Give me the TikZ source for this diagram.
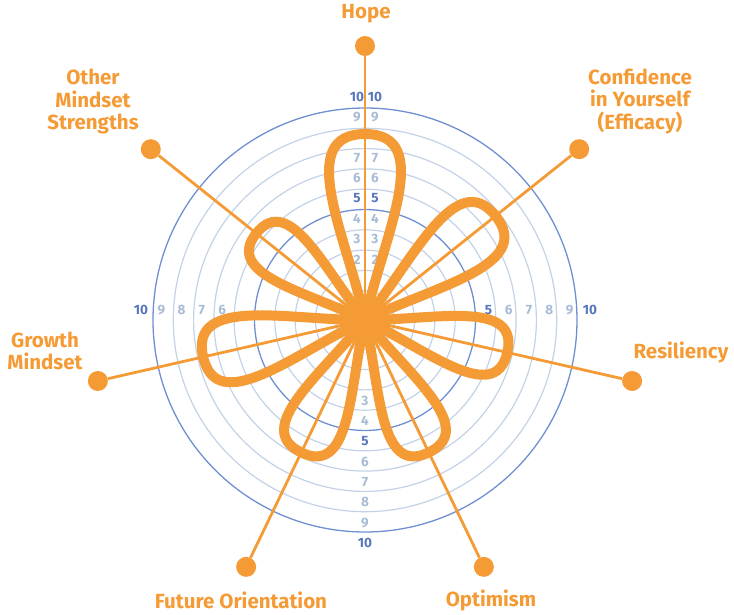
\documentclass[tikz,border=0pt]{standalone}
\usepackage{fontspec}
\setmainfont{Fira Sans}
\definecolor{org}{HTML}{F59B36}
\definecolor{ringL}{HTML}{C3D2E6}
\definecolor{ringD}{HTML}{6E8FD2}
\definecolor{numL}{HTML}{A9BCD5}
\definecolor{numD}{HTML}{5676BD}
\newcommand\petalshape[2]{%
  \draw[petal,rotate=#1] (0,0) .. controls ({0.45*#2},{-0.10*#2}) and ({1.0*#2},{-0.38*#2}) .. ({#2},0)
     .. controls ({1.0*#2},{0.38*#2}) and ({0.45*#2},{0.10*#2}) .. (0,0) -- cycle;}
\begin{document}
\begin{tikzpicture}[x=1pt,y=1pt,
  ringlight/.style={draw=ringL,line width=1.2pt},
  ringdark/.style={draw=ringD,line width=1.3pt},
  numlight/.style={text=numL,inner sep=0pt,font=\fontsize{13.5}{13.5}\selectfont\bfseries},
  numdark/.style={text=numD,inner sep=0pt,font=\fontsize{13.5}{13.5}\selectfont\bfseries},
  axisline/.style={draw=org,line width=2.8pt},
  enddot/.style={circle,fill=org,minimum size=20pt,inner sep=0pt},
  petal/.style={draw=org,line width=10pt,line join=round},
  lbl/.style={text=org,font=\fontsize{20.5}{22.5}\selectfont\bfseries,align=center,inner sep=0pt}
]
\useasboundingbox (-365,-294) rectangle (369,320);
\coordinate (O) at (0,0);
% rings
\foreach \k in {1,2,3,4,6,7,8,9} {\draw[ringlight] (O) circle ({9+20.3*\k});}
\foreach \k in {5,10} {\draw[ringdark] (O) circle ({9+20.3*\k});}
% scale numbers
\foreach \k in {2,3,4,6,7,9} {
  \node[numlight] (ta\k) at (-8,{20+20.3*\k}) {\k};
  \node[numlight] (tb\k) at (10,{20+20.3*\k}) {\k};}
\foreach \k in {5,10} {
  \node[numdark] (ta\k) at (-8,{20+20.3*\k}) {\k};
  \node[numdark] (tb\k) at (10,{20+20.3*\k}) {\k};}
\foreach \k in {6,7,8,9} {
  \node[numlight] (l\k) at ({-21-20.3*\k},10) {\k};
  \node[numlight] (r\k) at ({22+20.3*\k},10) {\k};}
\node[numdark] (l10) at ({-21-20.3*10},10) {10};
\foreach \k in {5,10} {\node[numdark] (r\k) at ({22+20.3*\k},10) {\k};}
\foreach \k in {3,4,6,7,8,9} {\node[numlight] (b\k) at (0,{-20-20.3*\k}) {\k};}
\foreach \k in {5,10} {\node[numdark] (b\k) at (0,{-20-20.3*\k}) {\k};}
% axis lines and end dots
\foreach \a/\n in {90/hope,38.57/conf,-12.86/res,-64.29/opt,-115.71/fut,192.86/grow,141.43/oth} {
  \node[enddot] (d\n) at (\a:274) {};
  \draw[axisline] (O) -- (d\n);
}
% petals
\petalshape{90}{186}
\petalshape{38.57}{167}
\petalshape{-12.86}{146}
\petalshape{-64.29}{147}
\petalshape{-115.71}{147}
\petalshape{192.86}{166}
\petalshape{141.43}{139}
\fill[org] (O) circle (11);
% labels
\node[lbl] (tHope) at (1,306) {Hope};
\node[lbl] (tConf) at (275,219) {Confidence\\in Yourself\\(Efficacy)};
\node[lbl] (tOther) at (-272,218) {Other\\Mindset\\Strengths};
\node[lbl] (tRes) at (316,-32) {Resiliency};
\node[lbl] (tGrowth) at (-320,-31) {Growth\\Mindset};
\node[lbl] (tFut) at (-124,-280) {Future Orientation};
\node[lbl] (tOpt) at (126,-280) {Optimism};
\end{tikzpicture}
\end{document}
